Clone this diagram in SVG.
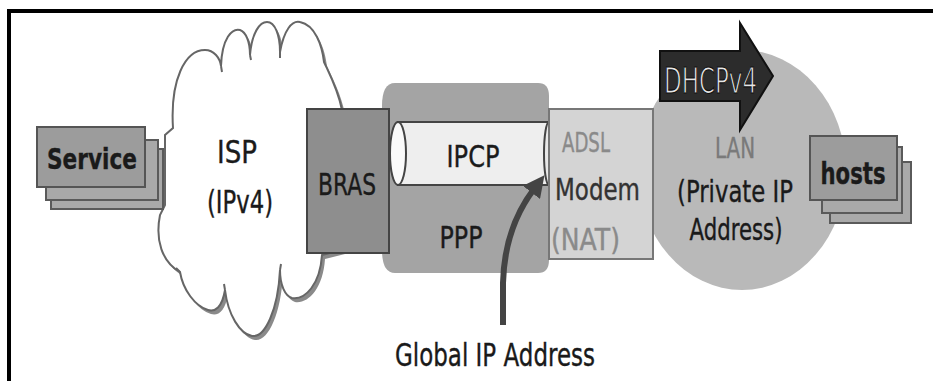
<svg xmlns="http://www.w3.org/2000/svg" width="933" height="381" viewBox="0 0 933 381">
  <style>
    .t { font-family: "DejaVu Sans", "Liberation Sans", sans-serif; fill: #1a1a1a; stroke: #1a1a1a; stroke-width: 0.4; }
    .b { font-weight: bold; }
    .box { stroke: #555; stroke-width: 2; }
    .stackback { fill: #a9a9a9; stroke: #5a5a5a; stroke-width: 2; }
  </style>
  <defs>
    <marker id="head" viewBox="0 0 10 10" refX="2" refY="5" markerWidth="3.6" markerHeight="3.6" orient="auto">
      <path d="M0,0 L10,5 L0,10 Z" fill="#444"/>
    </marker>
  </defs>

  <rect width="933" height="381" fill="#fff"/>
  <!-- frame -->
  <rect x="7" y="9" width="926" height="4" fill="#000"/>
  <rect x="7" y="9" width="4" height="372" fill="#000"/>

  <!-- ISP cloud -->
  <g id="isp">
    <path transform="translate(3,4)" fill="#8a8a8a" d="M173,128 C170,80 185,50 205,50 C214,50 220,58 221,66 C222,38 232,28 240,30 C246,32 250,42 250,55 C252,32 260,22 267,22 C275,22 280,35 280,52 C284,30 292,20 300,22 C315,25 322,45 324,62 C330,75 338,90 342,110 L342,250 L322,255 C320,285 305,300 292,298 C285,296 280,285 280,270 C278,310 265,338 252,336 C240,334 228,315 225,290 C222,308 215,312 208,310 C195,306 183,290 180,272 C162,262 155,240 160,215 L165,205 L165,135 Z"/>
    <path fill="#fff" stroke="#666" stroke-width="2" d="M173,128 C170,80 185,50 205,50 C214,50 220,58 221,66 C222,38 232,28 240,30 C246,32 250,42 250,55 C252,32 260,22 267,22 C275,22 280,35 280,52 C284,30 292,20 300,22 C315,25 322,45 324,62 C330,75 338,90 342,110 L342,250 L322,255 C320,285 305,300 292,298 C285,296 280,285 280,270 C278,310 265,338 252,336 C240,334 228,315 225,290 C222,308 215,312 208,310 C195,306 183,290 180,272 C162,262 155,240 160,215 L165,205 L165,135 Z"/>
    <path d="M221,66 L222,72 M250,55 L251,60 M280,52 L280,58 M280,270 L281,264 M225,290 L224,284 M180,272 L176,268" stroke="#666" stroke-width="2" fill="none"/>
    <text class="t" x="237" y="163" font-size="32" text-anchor="middle" textLength="40" lengthAdjust="spacingAndGlyphs">ISP</text>
    <text class="t" x="240" y="213" font-size="32" text-anchor="middle" textLength="66" lengthAdjust="spacingAndGlyphs">(IPv4)</text>
  </g>

  <!-- Service stack -->
  <g id="service">
    <rect class="stackback" x="51" y="149" width="112" height="60"/>
    <rect class="stackback" x="46" y="140" width="112" height="60"/>
    <rect class="box" x="37" y="127" width="108" height="60" fill="#9c9c9c"/>
    <text class="t b" x="92" y="169" font-size="29" text-anchor="middle" textLength="90" lengthAdjust="spacingAndGlyphs">Service</text>
  </g>

  <!-- PPP cylinder with IPCP tube -->
  <g id="ppp">
    <path d="M395,83 H538 Q549,83 549,96 V260 Q549,273 538,273 H395 Q382,273 382,250 V106 Q382,83 395,83 Z" fill="#a4a4a4"/>
    <rect x="398" y="122" width="151" height="63" fill="#eeeeee" stroke="#444" stroke-width="2"/>
    <ellipse cx="549" cy="153.5" rx="5" ry="31.5" fill="#e8e8e8" stroke="#444" stroke-width="2"/>
    <ellipse cx="398" cy="153.5" rx="8" ry="31.5" fill="#fafafa" stroke="#444" stroke-width="2"/>
    <text class="t" x="473" y="167" font-size="31" text-anchor="middle" textLength="53" lengthAdjust="spacingAndGlyphs">IPCP</text>
    <text class="t" x="461" y="248" font-size="31" text-anchor="middle" textLength="43" lengthAdjust="spacingAndGlyphs">PPP</text>
  </g>

  <!-- BRAS -->
  <g id="bras">
    <rect x="307" y="109" width="82" height="144" fill="#8e8e8e" stroke="#444" stroke-width="2"/>
    <text class="t" x="347" y="195" font-size="31" text-anchor="middle" textLength="58" lengthAdjust="spacingAndGlyphs">BRAS</text>
  </g>

  <!-- LAN -->
  <g id="lan">
    <ellipse cx="742" cy="170" rx="104" ry="120" fill="#b9b9b9"/>
    <text class="t" x="735" y="158" font-size="28" text-anchor="middle" style="fill:#7a7a7a;stroke:#7a7a7a" textLength="40" lengthAdjust="spacingAndGlyphs">LAN</text>
    <text class="t" x="735" y="202" font-size="30" text-anchor="middle" textLength="116" lengthAdjust="spacingAndGlyphs">(Private IP</text>
    <text class="t" x="736" y="240" font-size="30" text-anchor="middle" textLength="93" lengthAdjust="spacingAndGlyphs">Address)</text>
  </g>

  <!-- ADSL modem -->
  <g id="modem">
    <rect x="549" y="109" width="104" height="150" fill="#d4d4d4" stroke="#777" stroke-width="2"/>
    <text class="t" x="562" y="152" font-size="27" style="fill:#8a8a8a;stroke:#8a8a8a" textLength="48" lengthAdjust="spacingAndGlyphs">ADSL</text>
    <text class="t" x="555" y="200" font-size="30" style="fill:#333;stroke:#333" textLength="85" lengthAdjust="spacingAndGlyphs">Modem</text>
    <text class="t" x="551" y="250" font-size="30" style="fill:#8a8a8a;stroke:#8a8a8a" textLength="69" lengthAdjust="spacingAndGlyphs">(NAT)</text>
  </g>

  <!-- DHCPv4 arrow -->
  <g id="dhcpv4">
    <path d="M660,51 H740 V23 L773,76 L740,130 V101 H660 Z" fill="#2c2c2c" stroke="#111" stroke-width="2"/>
    <text class="t" x="664" y="93" font-size="35" style="fill:#e6e6e6;stroke:#111;stroke-width:1.2" textLength="93" lengthAdjust="spacingAndGlyphs">DHCPv4</text>
  </g>

  <!-- hosts stack -->
  <g id="hosts">
    <rect class="stackback" x="830" y="162" width="81" height="61"/>
    <rect class="stackback" x="822" y="147" width="80" height="66"/>
    <rect class="box" x="810" y="136" width="87" height="64" fill="#9c9c9c"/>
    <text class="t b" x="853" y="184" font-size="30" text-anchor="middle" textLength="65" lengthAdjust="spacingAndGlyphs">hosts</text>
  </g>

  <!-- connectors -->
  <g id="connectors">
    <path d="M503,325 L503,283 C504,245 515,214 534,189" fill="none" stroke="#444" stroke-width="6" marker-end="url(#head)"/>
  </g>

  <g id="global-ip">
    <text class="t" x="495" y="366" font-size="32" text-anchor="middle" textLength="200" lengthAdjust="spacingAndGlyphs">Global IP Address</text>
  </g>
</svg>
